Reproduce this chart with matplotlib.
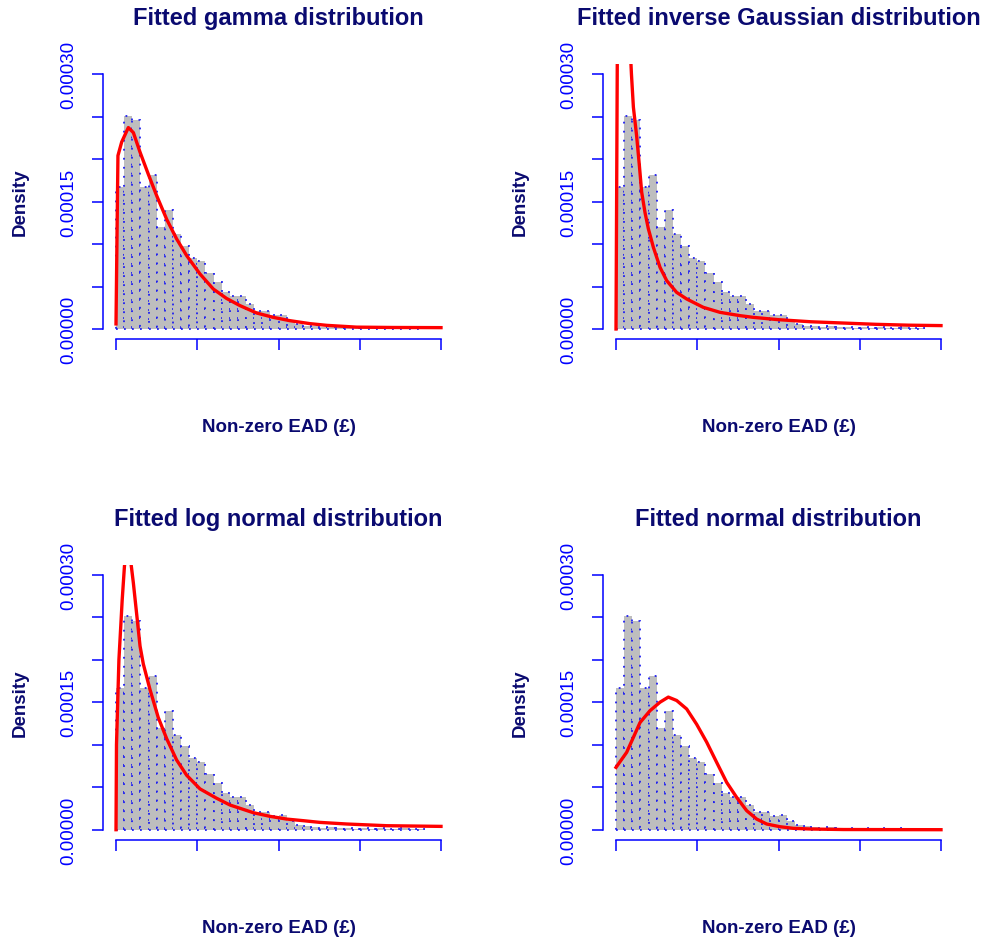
import matplotlib
matplotlib.use('Agg')
import matplotlib.pyplot as plt
import numpy as np

plt.rcParams['font.family'] = ['Liberation Sans', 'DejaVu Sans']

# ---------------- data ----------------
bin_width = 500
hist_density = [0.000167, 0.000251, 0.000246, 0.000167, 0.000181, 0.000120, 0.000140,
                0.000112, 0.000098, 0.000084, 0.000080, 0.000066, 0.000055, 0.000043,
                0.000039, 0.000039, 0.000029, 0.000021, 0.000021, 0.000016, 0.000017,
                0.000010, 0.000006, 0.000004, 0.000003, 0.000002, 0.000003, 0.000002,
                0.000002, 0.000001, 0.000002, 0.000001, 0.000002, 0.000001, 0.000001,
                0.000002, 0.000001, 0.000001]

gamma_x = [0, 60, 120, 350, 760, 1070, 1480, 1990, 2500, 3120, 3730, 4350, 5170, 5990,
           6800, 7630, 8660, 9680, 10700, 11940, 12970, 14800, 17000, 20000]
gamma_y = [0.000006, 0.000106, 0.000204, 0.00022, 0.000237, 0.000231, 0.000208, 0.000182,
           0.000157, 0.000129, 0.000106, 0.0000863, 0.0000647, 0.000047, 0.000036,
           0.0000275, 0.0000188, 0.0000137, 0.0000098, 0.0000063, 0.0000043, 0.0000022,
           0.0000018, 0.0000016]

invg_x = [0, 150, 500, 800, 950, 1070, 1270, 1440, 1580, 1785, 1990, 2300, 2710, 3120,
          3730, 4350, 5370, 6400, 7630, 8450, 9970, 12000, 14000, 16000, 18000, 20000]
invg_y = [0.0, 0.0006, 0.0005, 0.00036, 0.0003, 0.000261, 0.000227, 0.000192, 0.000161,
          0.000137, 0.000118, 0.0000961, 0.0000725, 0.0000569, 0.0000431, 0.0000353,
          0.0000255, 0.0000196, 0.0000157, 0.0000137, 0.000011, 0.0000085, 0.000007,
          0.0000055, 0.0000045, 0.000004]

lnorm_x = [0, 30, 180, 380, 520, 700, 880, 1070, 1270, 1480, 1680, 2090, 2600, 3120,
           3730, 4350, 5170, 6190, 7020, 8450, 9480, 10500, 11530, 12550, 14200, 16660,
           20000]
lnorm_y = [0.0, 0.0001, 0.0002, 0.00027, 0.00031, 0.00034, 0.00032, 0.00029, 0.000254,
           0.000216, 0.000195, 0.000165, 0.000132, 0.000107, 0.000082, 0.000064,
           0.000048, 0.000037, 0.000029, 0.000020, 0.0000157, 0.0000125, 0.0000106,
           0.0000086, 0.0000067, 0.0000047, 0.0000039]

norm_x = [0, 656, 1477, 2092, 2708, 3220, 3733, 4350, 4964, 5580, 6195, 6810, 7426,
          8041, 8656, 9272, 10092, 10913, 12000, 14000, 20000]
norm_y = [0.0000733, 0.000091, 0.000126, 0.00014, 0.00015, 0.000156, 0.000152, 0.000142,
          0.000124, 0.000103, 0.0000792, 0.0000557, 0.000038, 0.0000224, 0.0000125,
          0.0000067, 0.0000035, 0.0000016, 0.0000008, 0.0000002, 0.0]

titles = ['Fitted gamma distribution', 'Fitted inverse Gaussian distribution',
          'Fitted log normal distribution', 'Fitted normal distribution']
curves = [(gamma_x, gamma_y), (invg_x, invg_y), (lnorm_x, lnorm_y), (norm_x, norm_y)]

x_ticks = [0, 5000, 10000, 15000, 20000]
y_ticks = [0.0, 0.00005, 0.0001, 0.00015, 0.0002, 0.00025, 0.0003]
y_tick_labels = ['0.00000', '', '', '0.00015', '', '', '0.00030']
x_label = 'Non-zero EAD (\u00a3)'
y_label = 'Density'

# ---------------- layout ----------------
W, H = 988, 945
fig = plt.figure(figsize=(W / 100, H / 100), dpi=100)

navy = '#0a0a70'
blue = '#0000ff'
lefts_px = [103, 603]
bottoms_px = [340.2, 840.9]
pw, ph = 351, 275.4

edges = np.arange(len(hist_density) + 1) * bin_width

for i in range(4):
    r, c = divmod(i, 2)
    l = lefts_px[c] / W
    b = 1 - bottoms_px[r] / H
    ax = fig.add_axes([l, b, pw / W, ph / H])

    ax.bar(edges[:-1], hist_density, width=bin_width, align='edge', color='#bebebe',
           edgecolor='#2020f0', linewidth=1.3, linestyle=(0, (1, 4)), zorder=1)
    cx, cy = curves[i]
    ax.plot(cx, cy, color='#ff0000', lw=2.4, zorder=3, solid_joinstyle='round')

    ax.set_xlim(-800, 20800)
    ax.set_ylim(-0.000012, 0.000312)

    for s in ['top', 'right']:
        ax.spines[s].set_visible(False)
    for s in ['left', 'bottom']:
        ax.spines[s].set_color(blue)
        ax.spines[s].set_linewidth(1.1)
    ax.spines['left'].set_bounds(0, 0.0003)
    ax.spines['bottom'].set_bounds(0, 20000)

    ax.set_xticks(x_ticks)
    ax.set_yticks(y_ticks)
    ax.set_yticklabels(y_tick_labels)
    ax.tick_params(axis='both', colors=blue, length=7.9, width=1.1, direction='out')
    ax.tick_params(axis='x', labelbottom=False)
    ax.tick_params(axis='y', labelrotation=90, pad=11.0, labelsize=13.5)
    for lbl in ax.get_yticklabels():
        lbl.set_verticalalignment('center')

    ax.text(0.5, 1.168, titles[i], transform=ax.transAxes, ha='center', va='center',
            fontsize=17, fontweight='bold', color=navy)
    ax.text(-0.2365, 0.5, y_label, transform=ax.transAxes, ha='center', va='center',
            rotation=90, fontsize=13.5, fontweight='bold', color=navy)
    ax.text(0.5, -0.318, x_label, transform=ax.transAxes, ha='center', va='center',
            fontsize=13.5, fontweight='bold', color=navy)

fig.savefig('out.png', dpi=100)
